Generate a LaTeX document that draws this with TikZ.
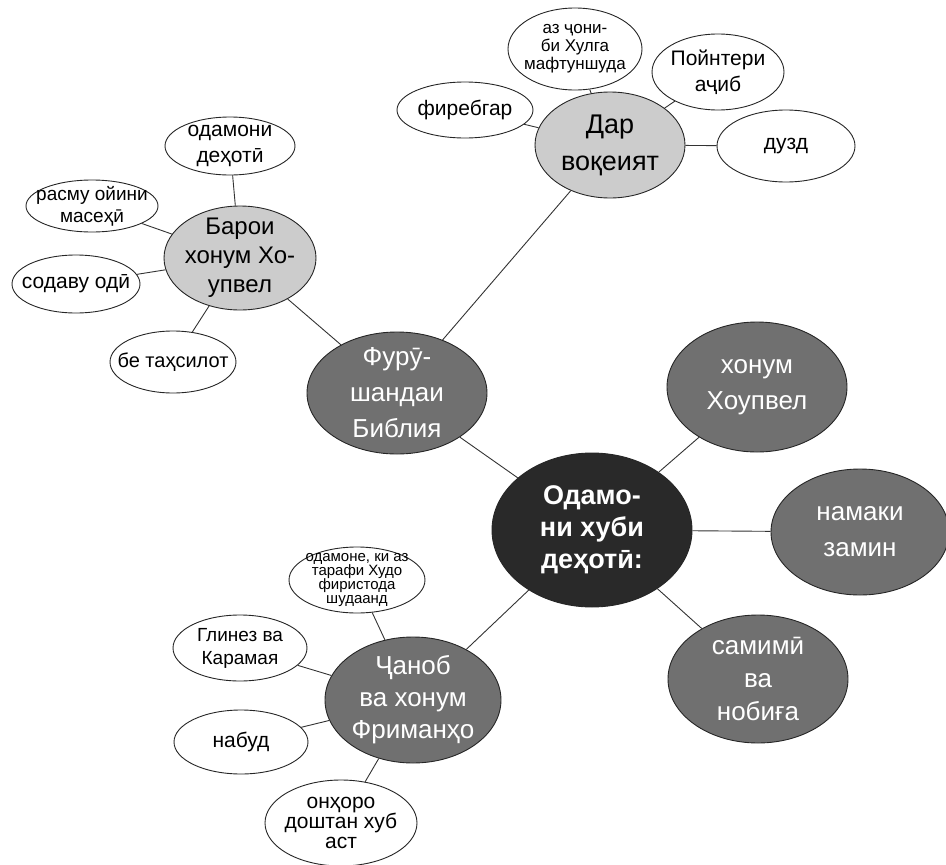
\documentclass[tikz,border=0pt]{standalone}
\usepackage{fontspec}
\setmainfont{Liberation Sans}
\usetikzlibrary{shapes.geometric}

\tikzset{
  bub/.style={ellipse, draw=black!85, line width=0.9pt, inner sep=-12pt, align=center},
  wh/.style 2 args={minimum width=#1, minimum height=#2},
  hub/.style={bub, fill=black!84, text=white, font=\bfseries\fontsize{27}{32}\selectfont},
  topic/.style={bub, fill=black!56, text=white, font=\fontsize{26}{36}\selectfont},
  sub/.style={bub, fill=black!20, font=\fontsize{24}{29}\selectfont},
  leaf/.style={bub, fill=white, font=\fontsize{21}{26}\selectfont},
  link/.style={draw=black!80, line width=0.9pt}
}

\begin{document}
\begin{tikzpicture}[x=1pt, y=-1pt]
\useasboundingbox (0,0) rectangle (946,865);

\node[hub, wh={200pt}{154pt}] (hub) at (592,530) {Одамо-\\ни хуби\\деҳотӣ:};
\node[topic, wh={180pt}{122pt}, font=\fontsize{26}{36}\selectfont] (bible) at (397,393) {Фурӯ-\\шандаи\\Библия};
\node[topic, wh={180pt}{130pt}] (hopewell) at (757,387) {хонум\\Хоупвел};
\node[topic, wh={178pt}{126pt}] (salt) at (860,532) {намаки\\замин};
\node[topic, wh={180pt}{128pt}, font=\fontsize{26}{33}\selectfont] (sincere) at (758,679) {самимӣ\\ва\\нобиға};
\node[topic, wh={176pt}{126pt}, font=\fontsize{26}{32}\selectfont] (freeman) at (413,700) {Ҷаноб\\ва хонум\\Фриманҳо};
\node[sub, wh={152pt}{104pt}] (forhope) at (240,258) {Барои\\хонум Хо-\\упвел};
\node[sub, wh={150pt}{106pt}, font=\fontsize{27}{37}\selectfont] (reality) at (610,145) {Дар\\воқеият};

\node[leaf, wh={130pt}{58pt}] (country) at (230,146) {одамони\\деҳотӣ};
\node[leaf, wh={132pt}{52pt}, font=\fontsize{19}{22}\selectfont] (rite) at (92,206) {расму ойини\\масеҳӣ};
\node[leaf, wh={128pt}{58pt}] (simple) at (76,284) {содаву одӣ};
\node[leaf, wh={126pt}{62pt}, font=\fontsize{20}{24}\selectfont] (unschooled) at (173,362) {бе таҳсилот};

\node[leaf, wh={136pt}{56pt}] (swindler) at (465,110) {фиребгар};
\node[leaf, wh={134pt}{82pt}, font=\fontsize{17}{18}\selectfont] (smitten) at (575,49) {аз ҷони-\\би Хулга\\мафтуншуда};
\node[leaf, wh={132pt}{76pt}] (pointer) at (718,72) {Пойнтери\\аҷиб};
\node[leaf, wh={138pt}{72pt}] (thief) at (786,146) {дузд};

\node[leaf, wh={136pt}{66pt}, font=\fontsize{15}{14}\selectfont] (chosen) at (357,580) {одамоне, ки аз\\тарафи Худо\\фиристода\\шудаанд};
\node[leaf, wh={134pt}{66pt}, font=\fontsize{19}{23}\selectfont] (glynese) at (240,648) {Глинез ва\\Карамая};
\node[leaf, wh={134pt}{64pt}] (none) at (241,742) {набуд};
\node[leaf, wh={152pt}{86pt}, font=\fontsize{21}{20}\selectfont] (better) at (341,823) {онҳоро\\доштан хуб\\аст};

\foreach \a/\b in {hub/bible, hub/hopewell, hub/salt, hub/sincere, hub/freeman,
  bible/forhope, bible/reality,
  forhope/country, forhope/rite, forhope/simple, forhope/unschooled,
  reality/swindler, reality/smitten, reality/pointer, reality/thief,
  freeman/chosen, freeman/glynese, freeman/none, freeman/better}
	\draw[link] (\a) -- (\b);

\end{tikzpicture}
\end{document}
